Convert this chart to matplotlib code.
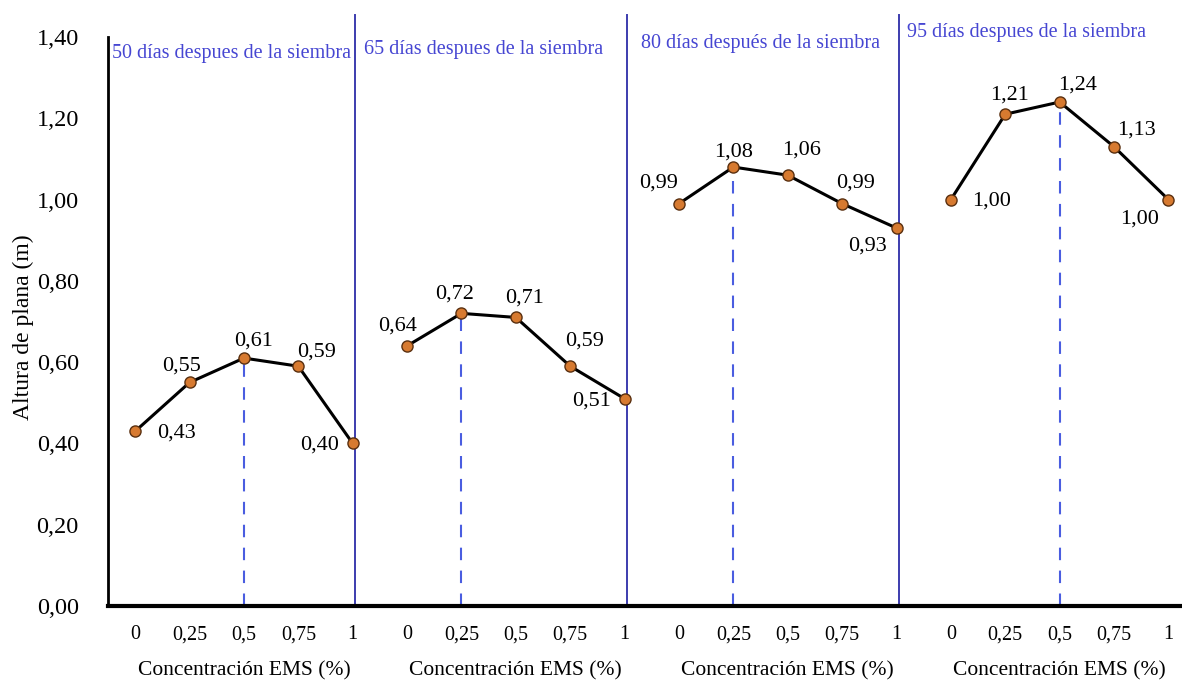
import numpy as np
import matplotlib
matplotlib.use("Agg")
import matplotlib.pyplot as plt

# ---- data ----
panel_titles = [
    "50 días despues de la siembra",
    "65 días despues de la siembra",
    "80 días después de la siembra",
    "95 días despues de la siembra",
]
conc_labels = ["0", "0,25", "0,5", "0,75", "1"]
altura_50 = [0.43, 0.55, 0.61, 0.59, 0.40]
altura_65 = [0.64, 0.72, 0.71, 0.59, 0.51]
altura_80 = [0.99, 1.08, 1.06, 0.99, 0.93]
altura_95 = [1.00, 1.21, 1.24, 1.13, 1.00]
series = [altura_50, altura_65, altura_80, altura_95]
optimo_idx = [2, 1, 1, 2]  # concentration index of the dashed marker line
y_ticks = [0.0, 0.2, 0.4, 0.6, 0.8, 1.0, 1.2, 1.4]

# label offsets (points), per panel / per point
label_off = [
    [(30, -1), (-6, 12), (7, 12), (13, 10), (-24, -1)],
    [(-7, 14), (-5, 14), (6, 14), (10, 18), (-24, -2)],
    [(-15, 15), (0, 11), (10, 18), (10, 15), (-21, -13)],
    [(29, -1), (3, 14), (13, 12), (16, 12), (-21, -14)],
]
title_pos = [(-0.42, 1.36), (4.2, 1.37), (9.3, 1.385), (14.2, 1.41)]

plt.rcParams["font.family"] = ["Liberation Serif", "DejaVu Serif"]

fig = plt.figure(figsize=(11.82, 6.82), dpi=100)
ax = fig.add_axes([108 / 1182, 1 - 606 / 682, 1 - 108 / 1182, (606 - 37) / 682])

SEP_C = "#3c3cae"
DASH_C = "#4a5de0"
TITLE_C = "#4646d2"

for p, vals in enumerate(series):
    xs = np.arange(5) + p * 5
    ax.plot(xs, vals, color="black", lw=2.2, zorder=3)
    ax.plot(xs, vals, "o", ms=8, mfc="#d77a30", mec="#5a3010", mew=1.0, zorder=4)
    k = optimo_idx[p]
    ax.plot([xs[k], xs[k]], [0, vals[k]], color=DASH_C, lw=1.5,
            dashes=(6, 5), zorder=2)
    for i, v in enumerate(vals):
        ax.annotate(f"{v:.2f}".replace(".", ","), (xs[i], v),
                    xytext=label_off[p][i], textcoords="offset points",
                    ha="center", va="center", fontsize=16, color="black")
    tx, ty = title_pos[p]
    ax.text(tx, ty, panel_titles[p], color=TITLE_C, fontsize=14.5,
            ha="left", va="center")
    if p < 3:
        ax.plot([p * 5 + 4.05] * 2, [0, 1.455], color=SEP_C, lw=1.4,
                clip_on=False, zorder=2)

ax.set_xlim(-0.5, 19.25)
ax.set_ylim(0, 1.4)
ax.set_yticks(y_ticks)
ax.set_yticklabels([f"{t:.2f}".replace(".", ",") for t in y_ticks], fontsize=17.5)
ax.set_xticks(np.arange(20))
ax.set_xticklabels(conc_labels * 4, fontsize=14.5)
ax.tick_params(axis="y", length=0, pad=21)
ax.tick_params(axis="x", length=0, pad=14)
ax.set_ylabel("Altura de plana (m)", fontsize=17)
ax.yaxis.set_label_coords(-0.069, 0.49)

for p in range(4):
    ax.text(p * 5 + 2, -0.16, "Concentración EMS (%)", fontsize=15.5,
            ha="center", va="center")

for s in ["top", "right"]:
    ax.spines[s].set_visible(False)
ax.spines["left"].set_linewidth(2)
ax.spines["bottom"].set_linewidth(3)

fig.savefig("out.png", dpi=100)
